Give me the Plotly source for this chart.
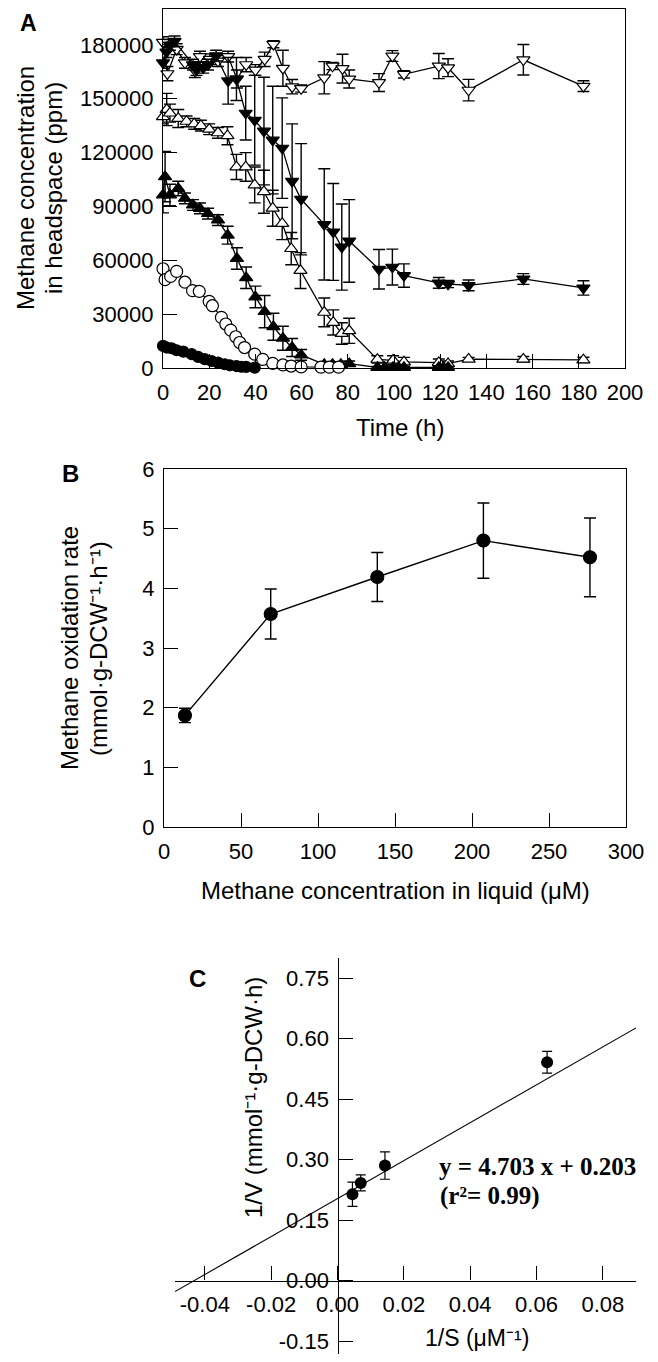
import plotly.graph_objects as go

# The page body adds an 8 px margin, so the figure is drawn 8 px smaller and
# reference pixel positions are shifted by that margin.
OFF = 8
WF, HF = 658 - 2 * OFF, 1362 - 2 * OFF

# ---------------- Panel A data (time h, methane ppm, error) ----------------
t1 = [0, 1.6, 3.7, 5.9, 8.8, 12.4, 15.2, 18.1, 21, 23.8, 26.7, 28.9, 31.8, 33.9, 36, 39.7]
v1 = [12300, 11400, 11000, 9900, 9100, 7700, 6200, 4900, 3900, 3000, 2100, 1500, 1100, 700, 600, 200]

t2 = [0, 0.9, 3.3, 5.9, 9.5, 12.8, 15.7, 20, 21.4, 25.3, 27.2, 29.3, 31.5, 33.2, 35.3, 39.7,
      43.2, 47.5, 51.9, 55.5, 59.8, 68.4, 72, 76]
v2 = [55300, 49200, 51000, 53800, 47800, 43100, 42700, 37100, 34700, 28200, 24500, 21100, 17400,
      14200, 11400, 7700, 4800, 2600, 1700, 1100, 600, 500, 500, 500]

t3 = [0, 0.9, 3, 6.6, 9.5, 13, 16, 19.5, 23.8, 28, 32, 36, 40, 44, 47.8, 51.9, 55.9, 59.8,
      69.8, 73.4, 77, 80.6, 92.8, 96, 99.6, 102, 104.3, 119.4, 121.4, 123.4]
v3 = [96400, 106600, 96400, 100000, 94500, 90800, 88900, 86000, 82400, 74000, 61000, 50300,
      39600, 31400, 23000, 16600, 11400, 7300, 2000, 2000, 2000, 2400, 300, 300, 300, 300, 300,
      300, 300, 300]
e3 = [10000, 14000, 6000, 4000, 3000, 3000, 3000, 3000, 3000, 5000, 6000, 6000, 6000, 9000,
      7500, 6700, 5000, 3000, 1500, 1500, 1500, 1500, 500, 500, 500, 500, 500, 500, 500, 500]

t4 = [0, 1.6, 3, 6.6, 10.2, 13.5, 16.4, 20, 23.8, 27.9, 31.8, 35.8, 39.7, 43.7, 47.5, 51.6,
      55.5, 59.5, 69.8, 73.7, 77.4, 80.6, 92.8, 99.6, 104.3, 119.4, 123.4, 132.3, 156, 182]
v4 = [140000, 144000, 142000, 139000, 137400, 136000, 135000, 133000, 131000, 129400, 112000,
      112000, 102000, 98200, 89000, 80500, 66500, 54300, 31000, 25400, 19200, 20700, 4800, 4300,
      3400, 3000, 2400, 4900, 4900, 4500]
e4 = [4000, 9000, 5000, 5000, 3000, 3000, 3000, 3000, 3000, 5000, 7000, 8000, 10000, 12000,
      10000, 9000, 9000, 10000, 8000, 7000, 6000, 7000, 2000, 2500, 2500, 2000, 1500, 1000, 1500, 1500]

t5 = [0, 1.5, 3, 5, 13, 14.5, 17.4, 19.5, 23, 28.2, 31.8, 35.8, 39.7, 43.7, 47.5, 51.6, 55.9,
      59.8, 69.8, 73.7, 77.4, 80.6, 93.5, 99.3, 104.3, 119.4, 123.4, 132.3, 156, 182]
v5 = [170000, 176000, 180000, 182000, 169000, 166000, 167300, 169000, 174000, 160000, 161000,
      142000, 138000, 132000, 127000, 122500, 104000, 94000, 80000, 75800, 67400, 70800, 55000,
      56200, 51500, 47400, 46800, 46000, 49600, 44600]
e5 = [3000, 3000, 3000, 3000, 3000, 3000, 3000, 3000, 3000, 13000, 12000, 15000, 25000, 30000,
      30000, 28000, 32000, 31000, 31000, 27000, 24000, 23000, 11000, 10000, 6500, 3000, 2000,
      3000, 3000, 4000]

t6 = [0, 1.9, 5.9, 9.5, 13.8, 16, 20.3, 23.8, 28.2, 32, 36, 40, 44, 47.8, 51.9, 55.9, 59.8,
      69.8, 73.4, 77.7, 80.6, 93.5, 99.3, 104.3, 119.4, 123.4, 132.3, 156, 182]
v6 = [181500, 164000, 177600, 170000, 165800, 173500, 172000, 171000, 173500, 161000, 169000,
      166000, 172000, 180400, 167000, 156700, 155700, 161700, 168200, 166800, 161000, 159000,
      173800, 163600, 168200, 167300, 154800, 171700, 157000]
e6 = [3000, 4000, 3000, 3000, 4000, 3000, 3000, 3000, 3000, 5000, 4000, 3000, 4000, 2000,
      10000, 4000, 2000, 9000, 2000, 8000, 5000, 5000, 3000, 2000, 7000, 5000, 6000, 8500, 3000]

a_xticks = [0, 20, 40, 60, 80, 100, 120, 140, 160, 180, 200]
a_yticks = [0, 30000, 60000, 90000, 120000, 150000, 180000]
a_ytext = ["0", "30000", "60000", "90000", "120000", "150000", "180000"]

# ---------------- Panel B data ----------------
b_conc = [13.6, 69.3, 138.5, 207.4, 276.6]
b_rate = [1.87, 3.57, 4.19, 4.80, 4.52]
b_err = [0.12, 0.42, 0.41, 0.63, 0.66]
b_xticks = [0, 50, 100, 150, 200, 250, 300]
b_yticks = [0, 1, 2, 3, 4, 5, 6]

# ---------------- Panel C data ----------------
c_invS = [0.0045, 0.0070, 0.0143, 0.0632]
c_invV = [0.214, 0.242, 0.285, 0.541]
c_err = [0.03, 0.02, 0.034, 0.027]
fit_slope, fit_intercept = 4.703, 0.203
fit_x = [-0.049, 0.09]
c_xticks = [-0.04, -0.02, 0.0, 0.02, 0.04, 0.06, 0.08]
c_xtext = ["-0.04", "-0.02", "0.00", "0.02", "0.04", "0.06", "0.08"]
c_yticks = [-0.15, 0.0, 0.15, 0.30, 0.45, 0.60, 0.75]
c_ytext = ["-0.15", "0.00", "0.15", "0.30", "0.45", "0.60", "0.75"]

FONT = "Arial, Liberation Sans, sans-serif"
SERIF = "Times New Roman, Liberation Serif, serif"
TICKF = 22
TITLEF = 24
LW = 1.3


def px_x(p):
    return (p - OFF) / WF


def px_y(p):
    return 1 - (p - OFF) / HF


fig = go.Figure()


def add_series(t, v, e, symbol, fill, size, xa="x", ya="y", lw=LW, cap=6):
    fig.add_trace(go.Scatter(
        x=t, y=v, xaxis=xa, yaxis=ya, mode="lines+markers",
        line=dict(color="black", width=lw),
        marker=dict(symbol=symbol, size=size, color=fill, line=dict(color="black", width=1.2)),
        error_y=(dict(type="data", array=e, visible=True, color="black", thickness=1.4, width=cap)
                 if e is not None else dict(visible=False)),
        showlegend=False, cliponaxis=False,
    ))


add_series(t6, v6, e6, "triangle-down", "white", 11.5)
add_series(t5, v5, e5, "triangle-down", "black", 11.5)
add_series(t4, v4, e4, "triangle-up", "white", 11.5)
add_series(t3, v3, e3, "triangle-up", "black", 11.5)
add_series(t2, v2, None, "circle", "white", 12)
add_series(t1, v1, None, "circle", "black", 11)

add_series(b_conc, b_rate, b_err, "circle", "black", 13, "x2", "y2", lw=1.4, cap=6)

fit_y = [fit_slope * x + fit_intercept for x in fit_x]
fig.add_trace(go.Scatter(x=fit_x, y=fit_y, xaxis="x3", yaxis="y3", mode="lines",
                         line=dict(color="black", width=1.1), showlegend=False))
fig.add_trace(go.Scatter(
    x=c_invS, y=c_invV, xaxis="x3", yaxis="y3", mode="markers",
    marker=dict(symbol="circle", size=12, color="black"),
    error_y=dict(type="data", array=c_err, visible=True, color="black", thickness=1.2, width=5),
    showlegend=False))

common = dict(showgrid=False, zeroline=False, showline=True, linecolor="black", linewidth=LW,
              ticks="inside", ticklen=14, tickwidth=LW, tickcolor="black", automargin=False,
              tickfont=dict(family=FONT, size=TICKF, color="black"))

# Panel geometry (reference pixels)
A_l, A_r, A_t, A_b = 163, 625, 9, 368
B_l, B_r, B_t, B_b = 164, 626, 469, 827
C_l, C_r, C_t, C_b = 175, 636, 958, 1354
# panel C: y=0.75 at 978 px, y=-0.15 at 1341 px ; x=0 at 337.5 px
C_ppu_y = (1341 - 978) / 0.9
C_y0px = 978 + 0.75 * C_ppu_y
C_x0px = 337.5
c_yrange = [(C_y0px - C_b) / C_ppu_y, (C_y0px - C_t) / C_ppu_y]

fig.update_layout(
    width=WF, height=HF, margin=dict(l=0, r=0, t=0, b=0, pad=0, autoexpand=False),
    paper_bgcolor="white", plot_bgcolor="white",
    font=dict(family=FONT, color="black"),
    xaxis=dict(domain=[px_x(A_l), px_x(A_r)], range=[0, 200], anchor="y", mirror=True,
               tickvals=a_xticks, ticklabelstandoff=4, **common),
    yaxis=dict(domain=[px_y(A_b), px_y(A_t)], range=[0, 200000], anchor="x", mirror=True,
               tickvals=a_yticks, ticktext=a_ytext, ticklabelstandoff=4, **common),
    xaxis2=dict(domain=[px_x(B_l), px_x(B_r)], range=[0, 300], anchor="y2", mirror=True,
                tickvals=b_xticks, ticklabelstandoff=4, **common),
    yaxis2=dict(domain=[px_y(B_b), px_y(B_t)], range=[0, 6], anchor="x2", mirror=True,
                tickvals=b_yticks, ticklabelstandoff=4, **common),
    xaxis3=dict(domain=[px_x(C_l), px_x(C_r)], range=[-0.049, 0.09], anchor="free",
                position=px_y(C_y0px), tickvals=c_xticks, ticktext=c_xtext,
                ticklabelstandoff=4, **common),
    yaxis3=dict(domain=[px_y(C_b), px_y(C_t)], range=c_yrange, anchor="free",
                position=px_x(C_x0px), tickvals=c_yticks, ticktext=c_ytext,
                ticklabelstandoff=4, **common),
)


def ann(text, x, y, size=TITLEF, angle=0, bold=False, family=FONT, xanchor="center"):
    fig.add_annotation(text=text, x=px_x(x), y=px_y(y), xref="paper", yref="paper",
                       showarrow=False, textangle=angle, xanchor=xanchor, yanchor="middle",
                       font=dict(family=family, size=size, color="black",
                                 weight="bold" if bold else "normal"))


# panel letters
ann("A", 28, 23, size=23, bold=True)
ann("B", 70, 473, size=24, bold=True)
ann("C", 198, 978, size=24, bold=True)

# axis titles
ann("Methane concentration", 26, 188, angle=-90)
ann("in headspace (ppm)", 54, 188, angle=-90)
ann("Time (h)", 400, 427)
ann("Methane oxidation rate", 69, 648, angle=-90)
ann("(mmol·g-DCW⁻¹·h⁻¹)", 98, 648, angle=-90)
ann("Methane concentration in liquid (μM)", 395, 890)
ann("1/V (mmol⁻¹·g-DCW·h)", 253, 1098, angle=-90)
ann("1/S (μM⁻¹)", 477, 1338, size=23)

# equation
ann("y = 4.703 x + 0.203", 437, 1166, size=25, bold=True, family=SERIF, xanchor="left")
ann("(r²= 0.99)", 438, 1196, size=25, bold=True, family=SERIF, xanchor="left")

fig.write_html("out.html")
